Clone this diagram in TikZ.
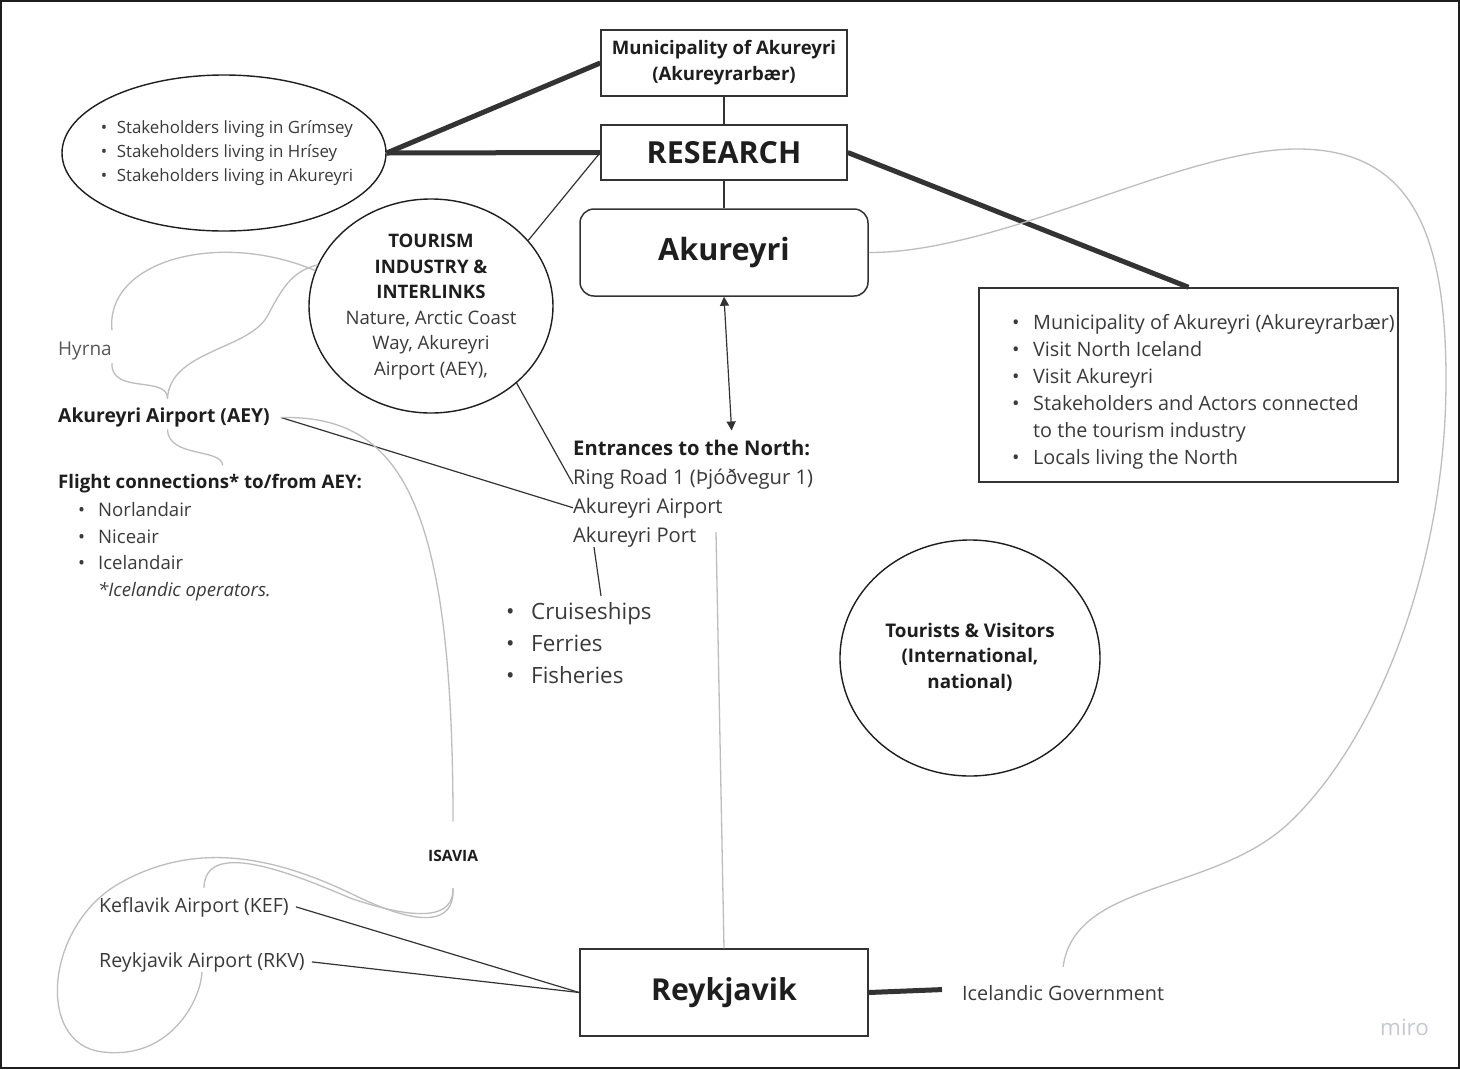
\documentclass[tikz,border=0pt]{standalone}
\usepackage{fontspec}
\setmainfont{Open Sans}
\usetikzlibrary{shapes.geometric,arrows.meta,calc}
\definecolor{ink}{HTML}{1E1E1E}
\definecolor{txt}{HTML}{3A3A3A}
\definecolor{curvecol}{HTML}{BDBDBD}
\definecolor{thickcol}{HTML}{333333}
\definecolor{mirocol}{HTML}{C8C9D0}
\newcommand\bul[1]{\makebox[#1][l]{\textbullet}}
\begin{document}
\begin{tikzpicture}[x=1pt,y=-1pt,
  lbl/.style={inner sep=0pt, text=txt},
  blbl/.style={inner sep=0pt, text=ink},
  box/.style={draw=thickcol, line width=1.5pt, inner sep=0pt},
  oval/.style={ellipse, draw=ink, line width=1.4pt, inner sep=0pt},
  conn/.style={draw=thickcol, line width=1.2pt},
  heavy/.style={draw=thickcol, line width=5pt},
  soft/.style={draw=curvecol, line width=1.3pt}]
\useasboundingbox (0,0) rectangle (1460,1069);
\fill[white] (0,0) rectangle (1460,1069);
\draw[draw=ink, line width=2pt] (1,1) rectangle (1459,1068);

% main boxes
\node[box, minimum width=246pt, minimum height=66pt, align=center, text=ink,
  font=\bfseries\fontsize{18.6}{26}\selectfont] (mun) at (724,63) {Municipality of Akureyri\\(Akureyrarbær)};
\node[box, minimum width=246pt, minimum height=55pt, text=ink,
  font=\bfseries\fontsize{30.4}{32}\selectfont] (res) at (724,152.5) {RESEARCH};
\node[box, rounded corners=14pt, minimum width=288pt, minimum height=87pt, text=ink,
  font=\bfseries\fontsize{30.6}{34}\selectfont] (ak) at (724,252.5) {Akureyri};
\node[box, minimum width=288pt, minimum height=87pt, text=ink,
  font=\bfseries\fontsize{30.2}{34}\selectfont] (reyk) at (724,992.5) {Reykjavik};

% stakeholders ellipse
\node[oval, minimum width=324pt, minimum height=156pt] (stake) at (224,153) {};
\node[lbl, align=left, font=\fontsize{16.9}{24}\selectfont] (staketext) at (227,153)
  {\bul{16pt}Stakeholders living in Grímsey\\\bul{16pt}Stakeholders living in Hrísey\\\bul{16pt}Stakeholders living in Akureyri};

% tourism ellipse
\node[oval, minimum width=244pt, minimum height=214pt] (tour) at (431,306) {};
\node[lbl, align=center, font=\fontsize{18.6}{25.6}\selectfont] (tourtext) at (431,307)
  {\textbf{\color{ink}TOURISM}\\\textbf{\color{ink}INDUSTRY \&}\\\textbf{\color{ink}INTERLINKS}\\Nature, Arctic Coast\\Way, Akureyri\\Airport (AEY),};

% tourists circle
\node[oval, minimum width=260pt, minimum height=236pt] (tourists) at (970,658) {};
\node[blbl, align=center, font=\bfseries\fontsize{18.8}{25.5}\selectfont] (tourtxt) at (970,657)
  {Tourists \& Visitors\\(International,\\national)};

% right box
\node[box, minimum width=419pt, minimum height=194pt] (rbox) at (1188.5,385) {};
\node[lbl, anchor=north west, align=left, font=\fontsize{19.8}{27}\selectfont] (rtext) at (1012,314)
  {\bul{21pt}Municipality of Akureyri (Akureyrarbær)\\\bul{21pt}Visit North Iceland\\\bul{21pt}Visit Akureyri\\\bul{21pt}Stakeholders and Actors connected\\\makebox[21pt]{}to the tourism industry\\\bul{21pt}Locals living the North};

% left labels
\node[lbl, anchor=base west, font=\fontsize{19}{20}\selectfont, text=txt!85!white] (hyrna) at (58,355) {Hyrna};
\node[blbl, anchor=base west, font=\bfseries\fontsize{19.3}{20}\selectfont] (aey) at (58,422.5) {Akureyri Airport (AEY)};
\node[blbl, anchor=base west, font=\bfseries\fontsize{18.7}{20}\selectfont] (flight) at (58,488) {Flight connections* to/from AEY:};
\node[lbl, anchor=north west, align=left, font=\fontsize{18.6}{26.7}\selectfont] (flist) at (78,502)
  {\bul{20pt}Norlandair\\\bul{20pt}Niceair\\\bul{20pt}Icelandair\\\makebox[20pt]{}\textit{*Icelandic operators.}};

% entrances
\node[blbl, anchor=base west, font=\bfseries\fontsize{20.2}{22}\selectfont] (entr) at (573,455) {Entrances to the North:};
\node[lbl, anchor=base west, font=\fontsize{20.2}{22}\selectfont] (ring) at (573,484) {Ring Road 1 (Þjóðvegur 1)};
\node[lbl, anchor=base west, font=\fontsize{20.2}{22}\selectfont] (aap) at (573,513) {Akureyri Airport};
\node[lbl, anchor=base west, font=\fontsize{20.2}{22}\selectfont] (aport) at (573,542) {Akureyri Port};
\node[lbl, anchor=north west, align=left, font=\fontsize{22.4}{32}\selectfont] (cruise) at (506,602)
  {\bul{25pt}Cruiseships\\\bul{25pt}Ferries\\\bul{25pt}Fisheries};

% bottom labels
\node[blbl, anchor=base west, font=\bfseries\fontsize{15.6}{18}\selectfont] (isavia) at (428,861) {ISAVIA};
\node[lbl, anchor=base west, font=\fontsize{19.6}{22}\selectfont] (kef) at (99,912) {Keflavik Airport (KEF)};
\node[lbl, anchor=base west, font=\fontsize{19.6}{22}\selectfont] (rkv) at (99,967) {Reykjavik Airport (RKV)};
\node[lbl, anchor=base west, font=\fontsize{19.8}{22}\selectfont] (gov) at (962,1000) {Icelandic Government};
\node[inner sep=0pt, anchor=base west, text=mirocol, font=\fontsize{22.4}{24}\selectfont] (miro) at (1380,1035) {miro};

% thin connectors
\draw[conn] (mun.south) -- (res.north);
\draw[conn] (res.south) -- (ak.north);
\draw[conn] (res.west) -- (tour.34);
\draw[conn] (tour.-42) -- (ring.base west);
\draw[conn] ([xshift=11pt]aey.east) -- (aap.west);
\draw[conn] ([xshift=21pt]aport.south west) -- ([xshift=95pt,yshift=6pt]cruise.north west);
\draw[conn] ([xshift=7pt]kef.east) -- (reyk.west);
\draw[conn] ([xshift=7pt]rkv.east) -- (reyk.west);
\draw[conn, {Triangle[length=9pt,width=9pt]}-{Triangle[length=9pt,width=9pt]}] (ak.south) -- ([xshift=40pt,yshift=9pt]entr.north);

% heavy connectors
\draw[heavy] (stake.east) -- (mun.west);
\draw[heavy] (stake.east) -- (res.west);
\draw[heavy] (res.east) -- (rbox.north);
\draw[heavy] (reyk.east) -- ([xshift=-20pt,yshift=3pt]gov.west);

% soft grey curves
\coordinate (gfree) at (716,532);
\draw[soft] (gfree) -- (reyk.north);
\draw[soft] (ak.east) .. controls (1000,253) and (1180,150) .. (1295,149)
  .. controls (1410,148) and (1446,230) .. (1446,380)
  .. controls (1446,560) and (1380,736) .. (1290,822)
  .. controls (1215,894) and (1075,880) .. ([yshift=18pt]gov.north);
\draw[soft] ([yshift=11pt]hyrna.north east) .. controls (105,260) and (220,230) .. (tour.163);
\draw[soft] ([yshift=-3pt]hyrna.south east) .. controls (110,395) and (168,375) .. ([xshift=3.5pt,yshift=9pt]aey.north);
\draw[soft] ([xshift=3.5pt,yshift=9pt]aey.north) .. controls (170,350) and (250,350) .. (268,315)
  .. controls (285,282) and (295,271) .. (tour.160);
\draw[soft] ([xshift=3.5pt,yshift=-2pt]aey.south) .. controls (168,458) and (222,448) .. ([xshift=12.5pt,yshift=8pt]flight.north);
\draw[soft] ([xshift=11pt]aey.east) .. controls (400,415) and (453,500) .. ([xshift=25pt,yshift=28pt]isavia.north west);
\coordinate (isv) at (453,888);
\draw[soft] (isv) .. controls (454,918) and (420,922) .. (350,898)
  .. controls (285,870) and (205,840) .. ([xshift=10pt,yshift=9pt]kef.north);
\draw[soft] (isv) .. controls (455,925) and (420,928) .. (350,893)
  .. controls (280,860) and (200,838) .. (120,883)
  .. controls (45,925) and (35,1045) .. (103,1052)
  .. controls (170,1060) and (201,1000) .. (rkv.south);
\end{tikzpicture}
\end{document}
